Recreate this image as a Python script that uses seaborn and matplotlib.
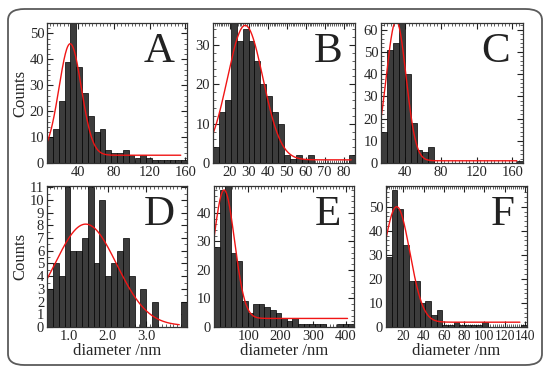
import numpy as np
import pandas as pd
import matplotlib
matplotlib.use("Agg")
import matplotlib.pyplot as plt
from matplotlib.patches import FancyBboxPatch
from matplotlib.ticker import AutoMinorLocator, FormatStrFormatter
import seaborn as sns

# histogram counts, with bin range (lo, hi)
counts_a = [10, 13, 24, 39, 55, 37, 27, 18, 12, 13, 5, 4, 4, 5, 3, 2, 3, 2, 1, 1, 1, 1, 1, 1]
range_a = (5, 162)
counts_b = [4, 13, 16, 36, 31, 34, 31, 26, 20, 17, 13, 10, 2, 1, 2, 1, 2, 0, 0, 0, 0, 0, 0, 2]
range_b = (11, 86)
counts_c = [14, 51, 54, 64, 40, 18, 6, 5, 7, 0, 0, 0, 0, 0, 0, 0, 0, 0, 0, 0, 0, 0, 0, 1]
range_c = (13, 172)
counts_d = [3, 5, 4, 11, 6, 6, 7, 11, 5, 10, 4, 5, 6, 7, 4, 0, 3, 0, 2, 0, 0, 0, 0, 2]
range_d = (0.43, 4.05)
counts_e = [28, 48, 50, 26, 23, 9, 5, 8, 8, 7, 6, 5, 3, 2, 3, 1, 1, 1, 1, 1, 0, 0, 1, 1, 1]
range_e = (-5, 425)
counts_f = [29, 57, 49, 34, 19, 19, 10, 11, 5, 7, 1, 1, 2, 1, 1, 1, 1, 2, 0, 0, 0, 0, 0, 0, 1]
range_f = (3, 142)

# gaussian fit: amplitude, centre, sigma, offset, x end
fit_a = (43, 31, 12.5, 3, 155)
fit_b = (34.2, 28, 9.4, 0.8, 84)
fit_c = (63, 30, 11, 1, 165)
fit_d = (8, 1.43, 0.8, 0.1, 3.85)
fit_e = (45, 26, 32, 3, 405)
fit_f = (48, 13.5, 13, 2, 135)

xlims = [(5, 162), (11, 86), (13, 172), (0.43, 4.05), (-5, 425), (3, 142)]
ylims = [(0, 54), (0, 35.6), (0, 63), (0, 11.1), (0, 49.4), (0, 58.6)]
xticks = [[40, 80, 120, 160], [20, 30, 40, 50, 60, 70, 80], [40, 80, 120, 160],
          [1.0, 2.0, 3.0], [100, 200, 300, 400], [20, 40, 60, 80, 100, 120, 140]]
yticks = [range(0, 51, 10), range(0, 31, 10), range(0, 61, 10),
          range(0, 12), range(0, 41, 10), range(0, 51, 10)]
letters = ['A', 'B', 'C', 'D', 'E', 'F']

# axes boxes in pixels: left, top, right, bottom
boxes = [(47, 23, 187, 163), (213, 23, 355, 163), (381, 23, 523, 163),
         (47, 186, 187, 327), (214, 186, 354, 327), (386, 186, 527, 327)]

W, H = 550, 373

sns.set_theme(style="white")
plt.rcParams['font.family'] = ['Liberation Serif', 'DejaVu Serif']

fig = plt.figure(figsize=(5.5, 3.73), dpi=100)
fig.patch.set_facecolor('white')
fig.patches.append(FancyBboxPatch((8 / W, 8 / H), 534 / W, 356 / H,
                                  boxstyle="round,pad=0,rounding_size=0.03",
                                  transform=fig.transFigure, facecolor='none',
                                  edgecolor='#5a5a5a', linewidth=1.3))

all_counts = [counts_a, counts_b, counts_c, counts_d, counts_e, counts_f]
all_ranges = [range_a, range_b, range_c, range_d, range_e, range_f]
all_fits = [fit_a, fit_b, fit_c, fit_d, fit_e, fit_f]

for i in range(6):
    l, t, r, b = boxes[i]
    ax = fig.add_axes([l / W, 1 - b / H, (r - l) / W, (b - t) / H])
    cnt = all_counts[i]
    lo, hi = all_ranges[i]
    edges = np.linspace(lo, hi, len(cnt) + 1)
    df = pd.DataFrame({'x': (edges[:-1] + edges[1:]) / 2, 'n': cnt})
    sns.histplot(data=df, x='x', weights='n', bins=len(cnt), binrange=(lo, hi), ax=ax,
                 color='#3c3c3c', edgecolor='#000000', linewidth=0.5, alpha=1)

    amp, mu, sig, off, xend = all_fits[i]
    xs = np.linspace(xlims[i][0], xend, 300)
    ys = off + amp * np.exp(-(xs - mu) ** 2 / (2 * sig ** 2))
    sns.lineplot(x=xs, y=ys, ax=ax, color='#f01515', linewidth=1.0)

    ax.set_xlim(*xlims[i])
    ax.set_ylim(*ylims[i])
    ax.set_xticks(xticks[i])
    ax.set_yticks(list(yticks[i]))
    if i == 3:
        ax.xaxis.set_major_formatter(FormatStrFormatter('%.1f'))
    ax.xaxis.set_minor_locator(AutoMinorLocator(10))
    ax.yaxis.set_minor_locator(AutoMinorLocator(5 if i != 3 else 2))
    ax.tick_params(which='both', direction='in', top=True, right=True,
                   bottom=True, left=True, labelsize=10.5, pad=2, color='#222')
    if i == 5:
        ax.tick_params(axis='x', labelsize=9.8)
    ax.tick_params(which='major', length=4.5, width=0.8)
    ax.tick_params(which='minor', length=2.2, width=0.5)
    for s in ax.spines.values():
        s.set_color('#333')
        s.set_linewidth(0.9)
    ax.set_xlabel('')
    ax.set_ylabel('')
    ax.text(0.91, 0.93, letters[i], transform=ax.transAxes, ha='right', va='top',
            fontsize=31, color='#222')
    if i in (0, 3):
        ax.set_ylabel('Counts', fontsize=12, labelpad=1)
    if i >= 3:
        ax.set_xlabel('diameter /nm', fontsize=12, labelpad=0)

fig.savefig('out.png', dpi=100, facecolor='white')
